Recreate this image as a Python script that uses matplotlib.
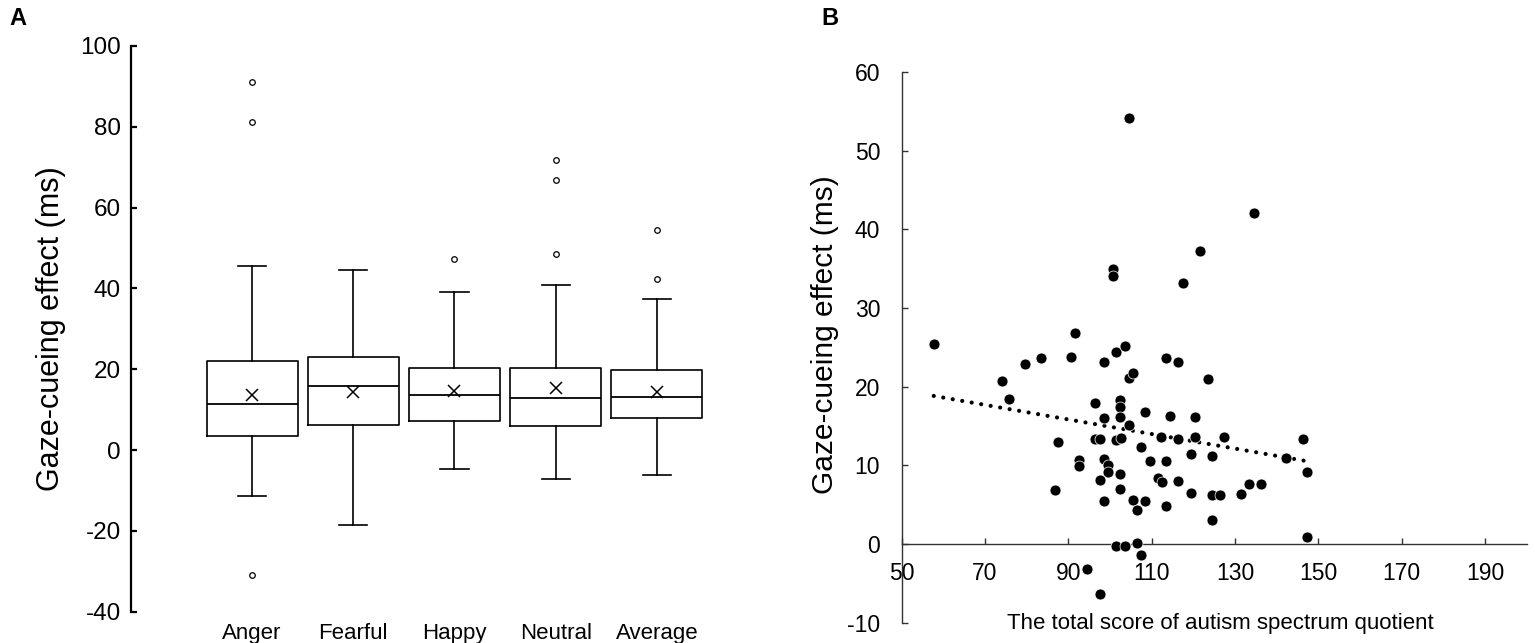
import numpy as np
import matplotlib
matplotlib.use("Agg")
import matplotlib.pyplot as plt

plt.rcParams['font.family'] = ['Liberation Sans', 'DejaVu Sans']
plt.rcParams['axes.unicode_minus'] = False

# panel A: box plot summaries
emotions = ["Anger", "Fearful", "Happy", "Neutral", "Average"]
whisker_low = [-11.3, -18.6, -4.6, -7.1, -6.2]
q1 = [3.6, 6.2, 7.1, 5.9, 7.9]
median = [11.4, 15.9, 13.6, 13.0, 13.2]
q3 = [22.1, 23.0, 20.2, 20.4, 19.8]
whisker_high = [45.5, 44.5, 39.0, 40.8, 37.3]
means = [13.6, 14.3, 14.7, 15.4, 14.4]
outliers = [[91.1, 81.1, -30.9], [], [47.3], [71.8, 66.9, 48.4], [54.4, 42.3]]

# panel B: AQ total score vs gaze-cueing effect
aq_score = [57.7, 74.0, 75.7, 79.7, 83.5, 86.7, 87.6, 90.6, 91.6, 92.5,
            92.5, 94.4, 96.5, 96.5, 97.6, 97.5, 97.6, 98.5, 98.5, 98.5,
            98.5, 99.5, 99.5, 100.6, 100.6, 101.5, 101.5, 101.5, 102.5, 102.5,
            102.5, 102.7, 102.5, 102.5, 103.5, 103.5, 104.6, 104.5, 104.5, 105.5,
            105.5, 106.5, 106.5, 107.5, 107.5, 108.5, 108.5, 109.6, 111.4, 112.2,
            112.4, 113.4, 113.4, 113.4, 114.5, 116.4, 116.4, 116.4, 117.6, 119.4,
            119.4, 120.3, 120.3, 121.5, 123.4, 124.4, 124.4, 124.4, 126.4, 127.4,
            131.4, 133.4, 134.6, 136.3, 142.2, 146.3, 147.3, 147.3]
gaze_effect = [25.4, 20.7, 18.5, 22.9, 23.7, 6.9, 13.0, 23.8, 26.8, 10.7,
               9.9, -3.2, 17.9, 13.3, 13.3, 8.1, -6.3, 23.1, 16.0, 10.8,
               5.5, 10.1, 9.1, 35.0, 34.1, 24.4, 13.2, -0.3, 18.3, 17.4,
               16.2, 13.5, 8.9, 7.0, 25.2, -0.3, 54.2, 21.1, 15.1, 21.8,
               5.6, 4.3, 0.1, 12.3, -1.4, 16.8, 5.5, 10.6, 8.4, 13.6,
               7.9, 23.7, 10.5, 4.9, 16.3, 23.2, 13.3, 8.0, 33.2, 11.5,
               6.5, 16.1, 13.6, 37.2, 21.0, 11.2, 6.2, 3.0, 6.2, 13.6,
               6.4, 7.6, 42.1, 7.6, 11.0, 13.4, 9.2, 0.9]

fig = plt.figure(figsize=(15.35, 6.43), dpi=100)

# ---------------- panel A ----------------
axA = fig.add_axes([0.0851, 0.0487, 0.3824, 0.8798])
stats = []
for i, name in enumerate(emotions):
    stats.append({"label": name, "whislo": whisker_low[i], "q1": q1[i], "med": median[i],
                  "q3": q3[i], "whishi": whisker_high[i], "mean": means[i], "fliers": outliers[i]})
line_kw = dict(color="black", linewidth=1.2)
axA.bxp(stats, positions=range(1, 6), widths=0.9, capwidths=0.28, showmeans=True,
        boxprops=line_kw, whiskerprops=line_kw, capprops=line_kw,
        medianprops=dict(color="black", linewidth=1.3),
        meanprops=dict(marker="x", markeredgecolor="black", markersize=8, markeredgewidth=1.1),
        flierprops=dict(marker="o", markerfacecolor="white", markeredgecolor="black",
                        markersize=4, markeredgewidth=0.9))
axA.set_xlim(-0.2, 5.6)
axA.set_ylim(-40, 100)
axA.set_yticks(np.arange(-40, 101, 20))
for s in ["top", "right", "bottom"]:
    axA.spines[s].set_visible(False)
axA.spines["left"].set_linewidth(1.6)
axA.tick_params(axis="y", direction="in", length=4, width=1.6, labelsize=17.5, pad=7)
axA.tick_params(axis="x", length=0, labelsize=16, pad=8)
axA.set_ylabel("Gaze-cueing effect (ms)", fontsize=22, labelpad=10)
fig.text(0.006, 0.972, "A", fontsize=17, fontweight="bold", va="center")

# ---------------- panel B ----------------
axB = fig.add_axes([0.5874, 0.0315, 0.4072, 0.8565])
axB.scatter(aq_score, gaze_effect, s=62, color="black", edgecolors="white", linewidths=0.5, zorder=3)
coef = np.polyfit(aq_score, gaze_effect, 1)
fit_x = np.array([min(aq_score), max(aq_score)])
axB.plot(fit_x, np.polyval(coef, fit_x), color="black", linewidth=3,
         linestyle=(0, (0.01, 2.3)), dash_capstyle="round", zorder=2)
axB.set_xlim(50, 200)
axB.set_ylim(-10, 60)
axB.set_xticks(np.arange(50, 191, 20))
axB.set_yticks(np.arange(-10, 61, 10))
for s in ["top", "right"]:
    axB.spines[s].set_visible(False)
axB.spines["bottom"].set_position(("data", 0))
for s in ["left", "bottom"]:
    axB.spines[s].set_linewidth(1.0)
    axB.spines[s].set_color("#333333")
axB.tick_params(direction="in", length=4, width=1.0, color="#333333", labelsize=16.5)
axB.tick_params(axis="y", pad=15.5)
axB.tick_params(axis="x", pad=13)
axB.set_xlabel("The total score of autism spectrum quotient", fontsize=16)
axB.xaxis.set_label_coords(0.51, 0.018)
axB.set_ylabel("Gaze-cueing effect (ms)", fontsize=21.5)
axB.yaxis.set_label_coords(-0.1, 0.523)
fig.text(0.535, 0.972, "B", fontsize=17, fontweight="bold", va="center")

fig.savefig("out.png", dpi=100)
